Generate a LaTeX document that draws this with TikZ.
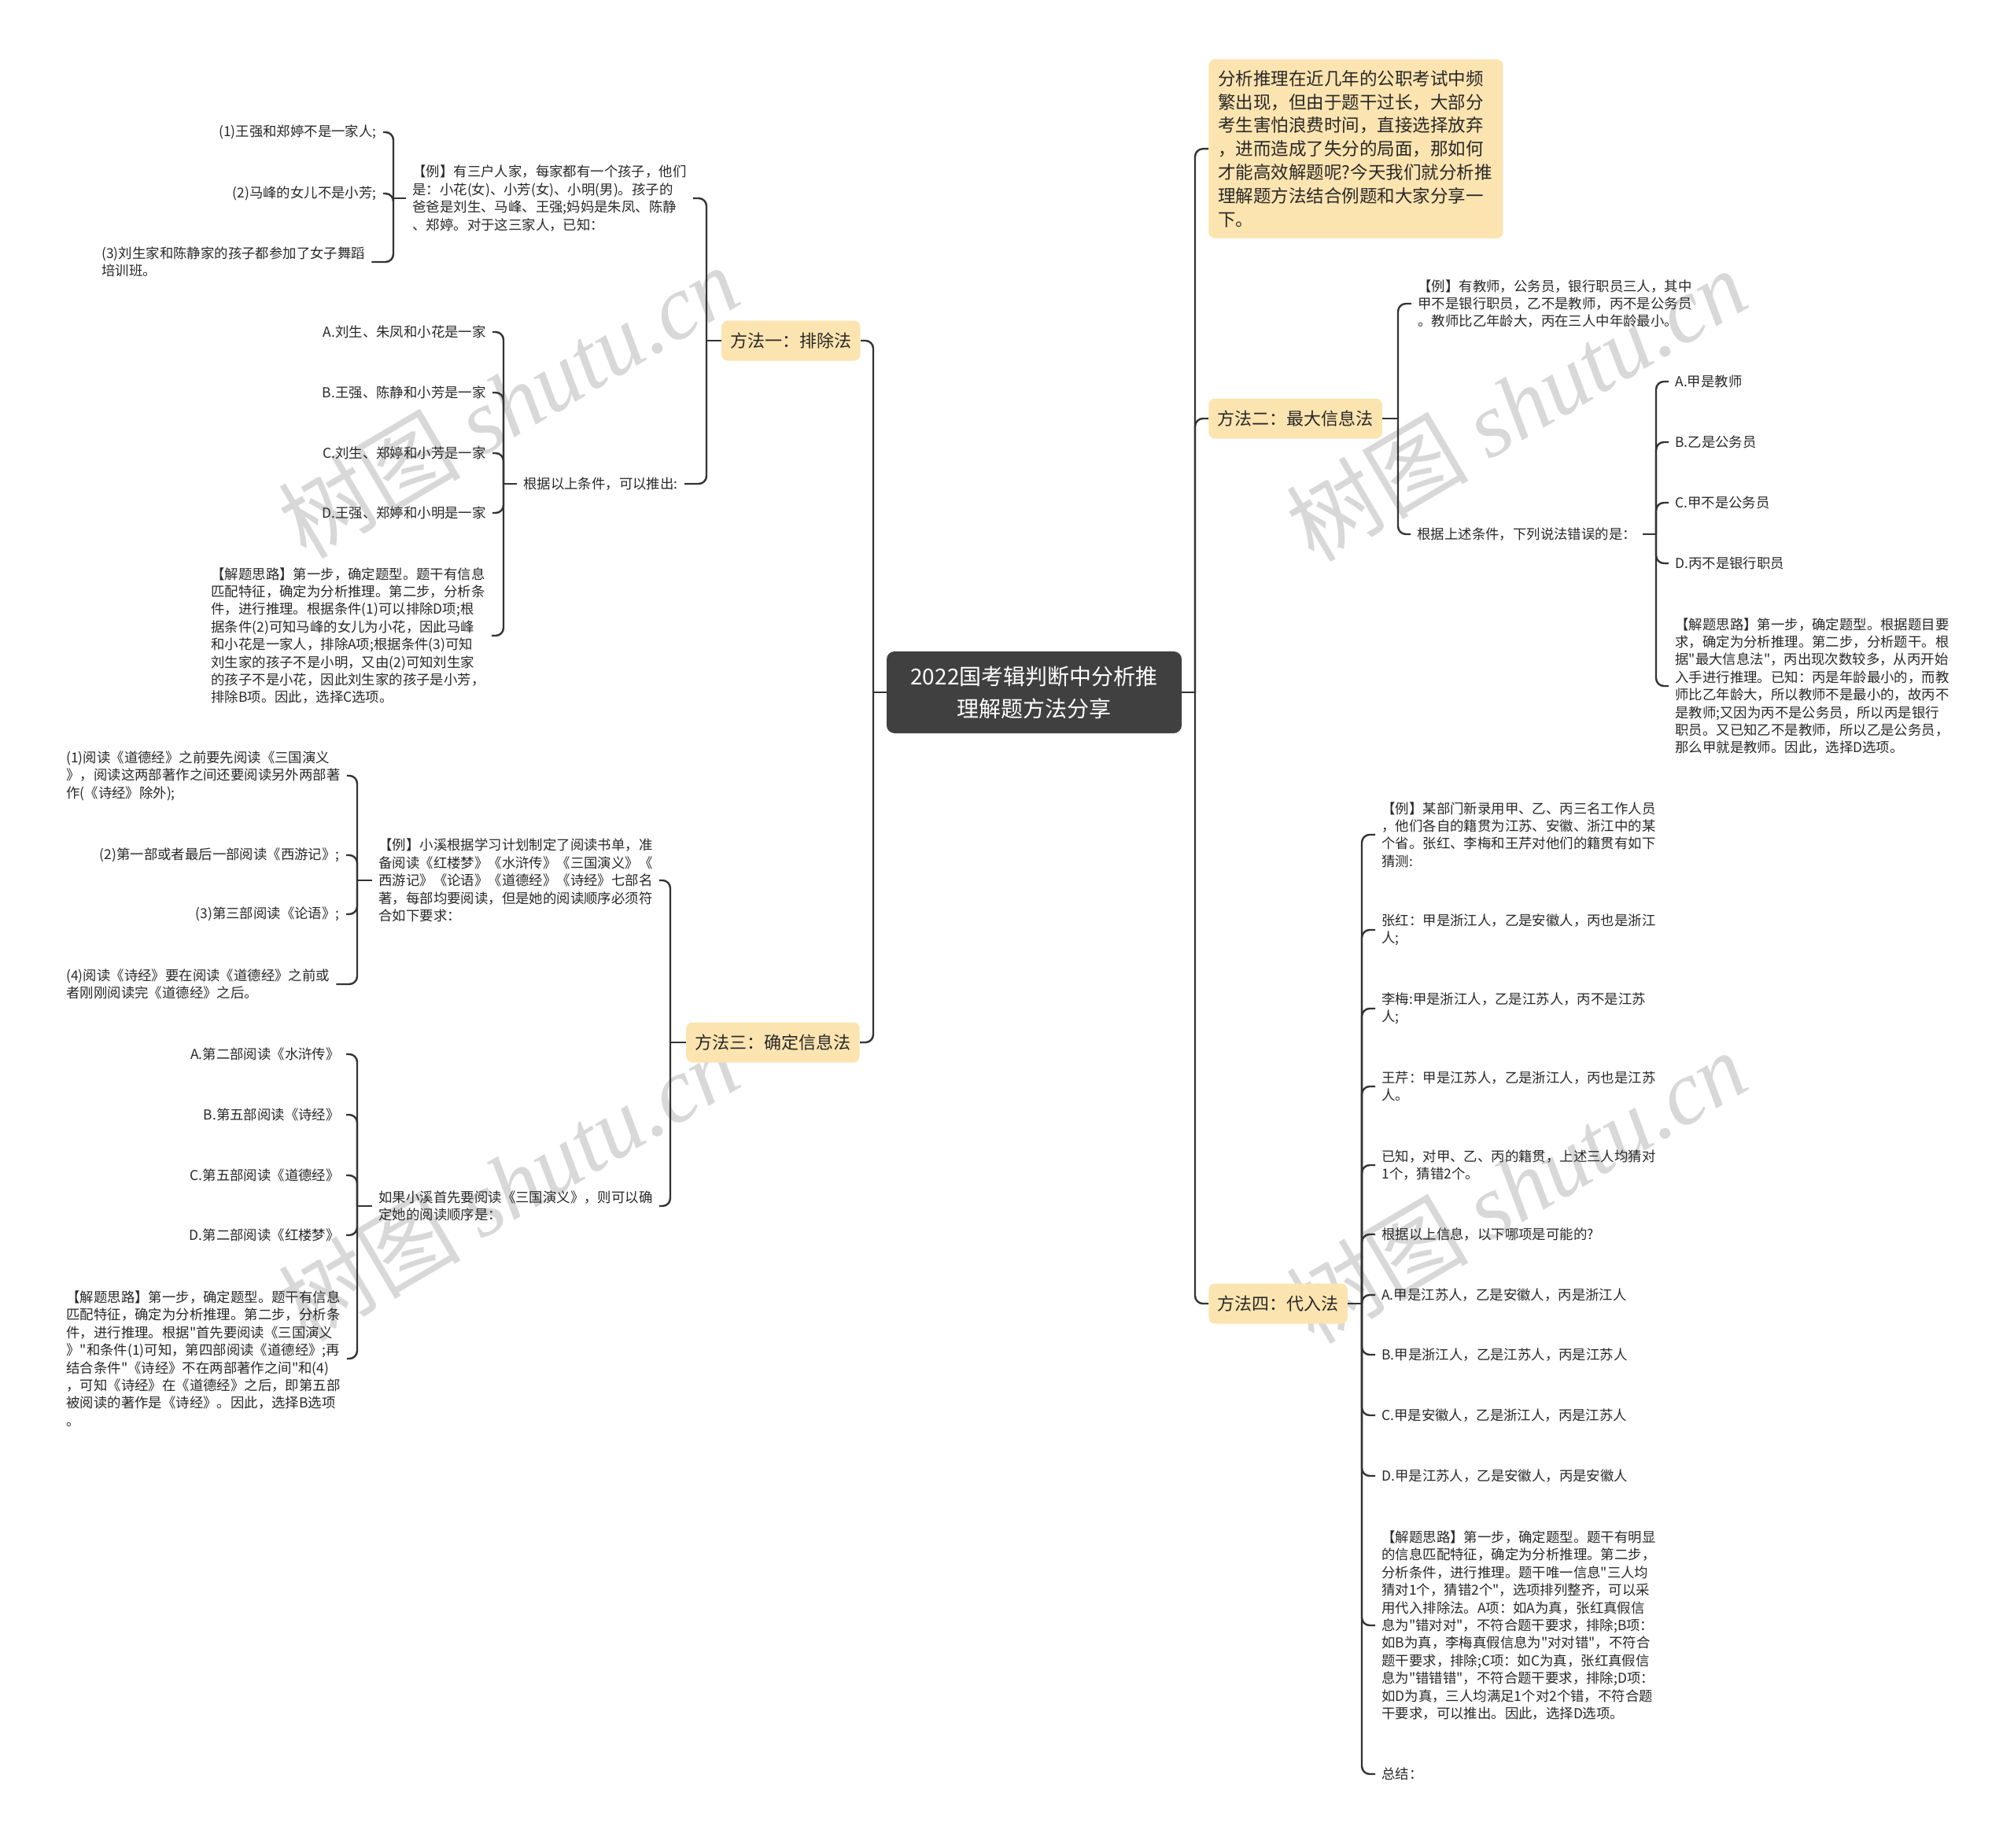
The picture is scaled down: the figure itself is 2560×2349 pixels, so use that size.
\documentclass[tikz,border=0pt]{standalone}
\usepackage{fontspec}
\newfontfamily\cjk{Noto Sans CJK SC}
\newfontfamily\wmserif{Liberation Serif}
\definecolor{methfill}{RGB}{252,228,176}
\definecolor{linec}{RGB}{51,51,51}
\definecolor{txt}{RGB}{40,40,40}
\definecolor{rootfill}{RGB}{64,64,64}
\definecolor{wmc}{RGB}{216,216,216}
\begin{document}
\begin{tikzpicture}[x=0.5pt,y=-0.5pt,
  leaf/.style={font=\cjk\fontsize{8.7}{11.2}\selectfont, inner sep=0pt, align=left, text=txt},
  meth/.style={fill=methfill, rounded corners=4pt, font=\cjk\fontsize{11}{13}\selectfont, minimum height=25.5pt, inner xsep=5.6pt, inner ysep=0pt, text=txt},
  rootbox/.style={fill=rootfill, text=white, rounded corners=5pt, minimum width=187.5pt, minimum height=52pt, align=center, inner sep=0pt, font=\cjk\fontsize{14}{20.5}\selectfont},
  conn/.style={draw=linec, line width=1.2pt, rounded corners=5pt},
  wm/.style={text=wmc, font=\cjk\fontsize{58}{60}\selectfont, rotate=30.5, inner sep=0pt}]
\fill[white] (0,0) rectangle (2560,2349);
\useasboundingbox (0,0) rectangle (2560,2349);

% watermarks
\node[wm] (w1) at (646,510) {树图 {\wmserif\itshape shutu.cn}};
\node[wm] (w2) at (646,1505) {树图 {\wmserif\itshape shutu.cn}};
\node[wm] (w3) at (1927,514) {树图 {\wmserif\itshape shutu.cn}};
\node[wm] (w4) at (1927,1508) {树图 {\wmserif\itshape shutu.cn}};

% trunk x positions
\coordinate (TL) at (1110,0);
\coordinate (TR) at (1519,0);
\coordinate (T1a) at (898,0);
\coordinate (T1b) at (500,0);
\coordinate (T1c) at (640,0);
\coordinate (T3a) at (852,0);
\coordinate (T3b) at (454,0);
\coordinate (T2a) at (1777,0);
\coordinate (T2b) at (2105,0);
\coordinate (T4a) at (1731,0);

% root and methods
\node[rootbox] (root) at (1314.5,880) {2022国考辑判断中分析推\\理解题方法分享};
\node[meth, anchor=east] (m1) at (1094,433) {方法一：排除法};
\node[meth, anchor=east] (m3) at (1093,1325) {方法三：确定信息法};
\node[meth, anchor=west] (m2) at (1536,532) {方法二：最大信息法};
\node[meth, anchor=west] (m4) at (1536,1657) {方法四：代入法};
\node[meth, anchor=north west, text width=175pt, align=left, inner xsep=6pt, inner ysep=7pt, font=\cjk\fontsize{11.25}{14.9}\selectfont] (intro) at (1536,75) {分析推理在近几年的公职考试中频\\繁出现，但由于题干过长，大部分\\考生害怕浪费时间，直接选择放弃\\，进而造成了失分的局面，那如何\\才能高效解题呢?今天我们就分析推\\理解题方法结合例题和大家分享一\\下。};

% method one subtree
\node[leaf, anchor=west] (ex1) at (524,252) {【例】有三户人家，每家都有一个孩子，他们\\是：小花(女)、小芳(女)、小明(男)。孩子的\\爸爸是刘生、马峰、王强;妈妈是朱凤、陈静\\、郑婷。对于这三家人，已知：};
\node[leaf, anchor=east] (c1) at (479,168) {(1)王强和郑婷不是一家人;};
\node[leaf, anchor=east] (c2) at (479,246) {(2)马峰的女儿不是小芳;};
\node[leaf, anchor=west] (c3) at (129,333) {(3)刘生家和陈静家的孩子都参加了女子舞蹈\\培训班。};
\node[leaf, anchor=east] (gen1) at (862,615) {根据以上条件，可以推出:};
\node[leaf, anchor=east] (o1A) at (618,422) {A.刘生、朱凤和小花是一家};
\node[leaf, anchor=east] (o1B) at (618,499) {B.王强、陈静和小芳是一家};
\node[leaf, anchor=east] (o1C) at (618,576) {C.刘生、郑婷和小芳是一家};
\node[leaf, anchor=east] (o1D) at (618,652) {D.王强、郑婷和小明是一家};
\node[leaf, anchor=west] (j1) at (268,808) {【解题思路】第一步，确定题型。题干有信息\\匹配特征，确定为分析推理。第二步，分析条\\件，进行推理。根据条件(1)可以排除D项;根\\据条件(2)可知马峰的女儿为小花，因此马峰\\和小花是一家人，排除A项;根据条件(3)可知\\刘生家的孩子不是小明，又由(2)可知刘生家\\的孩子不是小花，因此刘生家的孩子是小芳，\\排除B项。因此，选择C选项。};

% method three subtree
\node[leaf, anchor=west] (ex3) at (481,1119) {【例】小溪根据学习计划制定了阅读书单，准\\备阅读《红楼梦》《水浒传》《三国演义》《\\西游记》《论语》《道德经》《诗经》七部名\\著，每部均要阅读，但是她的阅读顺序必须符\\合如下要求：};
\node[leaf, anchor=west] (d1) at (84,986) {(1)阅读《道德经》之前要先阅读《三国演义\\》，阅读这两部著作之间还要阅读另外两部著\\作(《诗经》除外);};
\node[leaf, anchor=east] (d2) at (432,1087) {(2)第一部或者最后一部阅读《西游记》;};
\node[leaf, anchor=east] (d3) at (432,1162) {(3)第三部阅读《论语》;};
\node[leaf, anchor=west] (d4) at (84,1251) {(4)阅读《诗经》要在阅读《道德经》之前或\\者刚刚阅读完《道德经》之后。};
\node[leaf, anchor=west] (if3) at (481,1533) {如果小溪首先要阅读《三国演义》，则可以确\\定她的阅读顺序是：};
\node[leaf, anchor=east] (p3A) at (432,1340) {A.第二部阅读《水浒传》};
\node[leaf, anchor=east] (p3B) at (432,1417) {B.第五部阅读《诗经》};
\node[leaf, anchor=east] (p3C) at (432,1494) {C.第五部阅读《道德经》};
\node[leaf, anchor=east] (p3D) at (432,1570) {D.第二部阅读《红楼梦》};
\node[leaf, anchor=west] (j3) at (84,1727) {【解题思路】第一步，确定题型。题干有信息\\匹配特征，确定为分析推理。第二步，分析条\\件，进行推理。根据"首先要阅读《三国演义\\》"和条件(1)可知，第四部阅读《道德经》;再\\结合条件"《诗经》不在两部著作之间"和(4)\\，可知《诗经》在《道德经》之后，即第五部\\被阅读的著作是《诗经》。因此，选择B选项\\。};

% method two subtree
\node[leaf, anchor=west] (ex2) at (1802,386) {【例】有教师，公务员，银行职员三人，其中\\甲不是银行职员，乙不是教师，丙不是公务员\\。教师比乙年龄大，丙在三人中年龄最小。};
\node[leaf, anchor=west] (gen2) at (1801,679) {根据上述条件，下列说法错误的是：};
\node[leaf, anchor=west] (q2A) at (2129,485) {A.甲是教师};
\node[leaf, anchor=west] (q2B) at (2129,562) {B.乙是公务员};
\node[leaf, anchor=west] (q2C) at (2129,639) {C.甲不是公务员};
\node[leaf, anchor=west] (q2D) at (2129,716) {D.丙不是银行职员};
\node[leaf, anchor=west] (j2) at (2129,872) {【解题思路】第一步，确定题型。根据题目要\\求，确定为分析推理。第二步，分析题干。根\\据"最大信息法"，丙出现次数较多，从丙开始\\入手进行推理。已知：丙是年龄最小的，而教\\师比乙年龄大，所以教师不是最小的，故丙不\\是教师;又因为丙不是公务员，所以丙是银行\\职员。又已知乙不是教师，所以乙是公务员，\\那么甲就是教师。因此，选择D选项。};

% method four subtree
\node[leaf, anchor=west] (r1) at (1756,1061) {【例】某部门新录用甲、乙、丙三名工作人员\\，他们各自的籍贯为江苏、安徽、浙江中的某\\个省。张红、李梅和王芹对他们的籍贯有如下\\猜测:};
\node[leaf, anchor=west] (r2) at (1756,1182) {张红：甲是浙江人，乙是安徽人，丙也是浙江\\人;};
\node[leaf, anchor=west] (r3) at (1756,1282) {李梅:甲是浙江人，乙是江苏人，丙不是江苏\\人;};
\node[leaf, anchor=west] (r4) at (1756,1381) {王芹：甲是江苏人，乙是浙江人，丙也是江苏\\人。};
\node[leaf, anchor=west] (r5) at (1756,1481) {已知，对甲、乙、丙的籍贯，上述三人均猜对\\1个，猜错2个。};
\node[leaf, anchor=west] (r6) at (1756,1569) {根据以上信息，以下哪项是可能的?};
\node[leaf, anchor=west] (r7) at (1756,1646) {A.甲是江苏人，乙是安徽人，丙是浙江人};
\node[leaf, anchor=west] (r8) at (1756,1722) {B.甲是浙江人，乙是江苏人，丙是江苏人};
\node[leaf, anchor=west] (r9) at (1756,1799) {C.甲是安徽人，乙是浙江人，丙是江苏人};
\node[leaf, anchor=west] (r10) at (1756,1876) {D.甲是江苏人，乙是安徽人，丙是安徽人};
\node[leaf, anchor=west] (r11) at (1756,2066) {【解题思路】第一步，确定题型。题干有明显\\的信息匹配特征，确定为分析推理。第二步，\\分析条件，进行推理。题干唯一信息"三人均\\猜对1个，猜错2个"，选项排列整齐，可以采\\用代入排除法。A项：如A为真，张红真假信\\息为"错对对"，不符合题干要求，排除;B项：\\如B为真，李梅真假信息为"对对错"，不符合\\题干要求，排除;C项：如C为真，张红真假信\\息为"错错错"，不符合题干要求，排除;D项：\\如D为真，三人均满足1个对2个错，不符合题\\干要求，可以推出。因此，选择D选项。};
\node[leaf, anchor=west] (r12) at (1756,2255) {总结：};

% ---- connectors ----
% root
\draw[conn] (root.west) -- (root.west -| TL);
\draw[conn] (root.west -| TL) |- (m1.east);
\draw[conn] (root.west -| TL) |- (m3.east);
\draw[conn] (root.east) -- (root.east -| TR);
\draw[conn] (root.east -| TR) |- (intro.west);
\draw[conn] (root.east -| TR) |- (m2.west);
\draw[conn] (root.east -| TR) |- (m4.west);

% method one
\draw[conn] (m1.west) -- (m1.west -| T1a);
\draw[conn] (m1.west -| T1a) |- ([xshift=4pt]ex1.east);
\draw[conn] (m1.west -| T1a) |- ([xshift=4pt]gen1.east);
\draw[conn] ([xshift=-4pt]ex1.west) -- (ex1.west -| T1b);
\draw[conn] (ex1.west -| T1b) |- ([xshift=4pt]c1.east);
\draw[conn] (ex1.west -| T1b) |- ([xshift=4pt]c2.east);
\draw[conn] (ex1.west -| T1b) |- ([xshift=4pt]c3.east);
\draw[conn] ([xshift=-4pt]gen1.west) -- (gen1.west -| T1c);
\draw[conn] (gen1.west -| T1c) |- ([xshift=4pt]o1A.east);
\draw[conn] (gen1.west -| T1c) |- ([xshift=4pt]o1B.east);
\draw[conn] (gen1.west -| T1c) |- ([xshift=4pt]o1C.east);
\draw[conn] (gen1.west -| T1c) |- ([xshift=4pt]o1D.east);
\draw[conn] (gen1.west -| T1c) |- ([xshift=4pt]j1.east);

% method three
\draw[conn] (m3.west) -- (m3.west -| T3a);
\draw[conn] (m3.west -| T3a) |- ([xshift=4pt]ex3.east);
\draw[conn] (m3.west -| T3a) |- ([xshift=4pt]if3.east);
\draw[conn] ([xshift=-4pt]ex3.west) -- (ex3.west -| T3b);
\draw[conn] (ex3.west -| T3b) |- ([xshift=4pt]d1.east);
\draw[conn] (ex3.west -| T3b) |- ([xshift=4pt]d2.east);
\draw[conn] (ex3.west -| T3b) |- ([xshift=4pt]d3.east);
\draw[conn] (ex3.west -| T3b) |- ([xshift=4pt]d4.east);
\draw[conn] ([xshift=-4pt]if3.west) -- (if3.west -| T3b);
\draw[conn] (if3.west -| T3b) |- ([xshift=4pt]p3A.east);
\draw[conn] (if3.west -| T3b) |- ([xshift=4pt]p3B.east);
\draw[conn] (if3.west -| T3b) |- ([xshift=4pt]p3C.east);
\draw[conn] (if3.west -| T3b) |- ([xshift=4pt]p3D.east);
\draw[conn] (if3.west -| T3b) |- ([xshift=4pt]j3.east);

% method two
\draw[conn] (m2.east) -- (m2.east -| T2a);
\draw[conn] (m2.east -| T2a) |- ([xshift=-4pt]ex2.west);
\draw[conn] (m2.east -| T2a) |- ([xshift=-4pt]gen2.west);
\draw[conn] ([xshift=4pt]gen2.east) -- (gen2.east -| T2b);
\draw[conn] (gen2.east -| T2b) |- ([xshift=-4pt]q2A.west);
\draw[conn] (gen2.east -| T2b) |- ([xshift=-4pt]q2B.west);
\draw[conn] (gen2.east -| T2b) |- ([xshift=-4pt]q2C.west);
\draw[conn] (gen2.east -| T2b) |- ([xshift=-4pt]q2D.west);
\draw[conn] (gen2.east -| T2b) |- ([xshift=-4pt]j2.west);

% method four
\draw[conn] (m4.east) -- (m4.east -| T4a);
\foreach \n in {r1,r2,r3,r4,r5,r6,r7,r8,r9,r10,r11,r12}
  \draw[conn] (m4.east -| T4a) |- ([xshift=-4pt]\n.west);
\end{tikzpicture}
\end{document}
